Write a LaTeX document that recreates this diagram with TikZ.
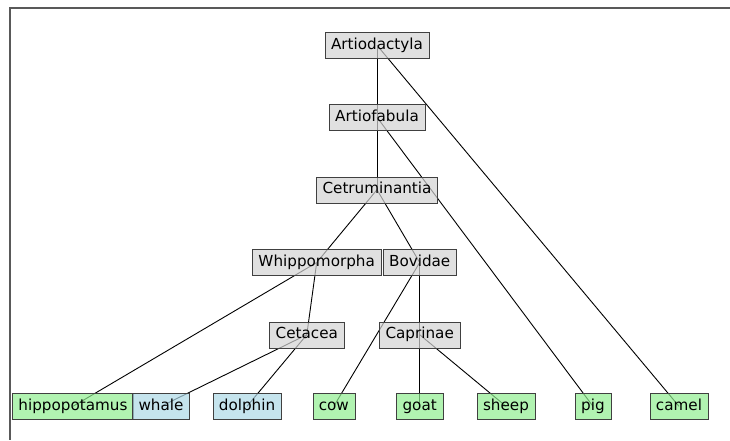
\documentclass[tikz,border=0pt]{standalone}
\usepackage{fontspec}
\setmainfont{DejaVu Sans}
\usetikzlibrary{backgrounds}
\definecolor{nodegray}{RGB}{211,211,211}
\definecolor{landgreen}{RGB}{144,238,144}
\definecolor{seablue}{RGB}{173,216,230}

\tikzset{
  taxon/.style={draw=black!75, fill=nodegray, fill opacity=.7, text opacity=1,
    inner xsep=6pt, inner ysep=5.5pt, text height=11.5pt, text depth=3.5pt,
    font=\fontsize{15.2}{18}\selectfont},
  land/.style={taxon, fill=landgreen},
  sea/.style={taxon, fill=seablue},
  branch/.style={line width=.9pt, black}
}

\begin{document}
\begin{tikzpicture}[x=1pt, y=-1pt]
\useasboundingbox (0,0) rectangle (730,440);
% axes frame
\draw[black!65, line width=1.1pt] (730,8) -- (10,8) -- (10,440);

% inner nodes
\node[taxon] (artiodactyla) at (377,45.3) {Artiodactyla};
\node[taxon] (artiofabula) at (377,117.3) {Artiofabula};
\node[taxon] (cetruminantia) at (377,189.7) {Cetruminantia};
\node[taxon] (whippomorpha) at (316.7,262.5) {Whippomorpha};
\node[taxon] (bovidae) at (419.7,262.5) {Bovidae};
\node[taxon] (cetacea) at (306.8,334.7) {Cetacea};
\node[taxon] (caprinae) at (419.7,334.7) {Caprinae};

% leaves
\node[land] (hippopotamus) at (73,406.3) {hippopotamus};
\node[sea] (whale) at (161,406.3) {whale};
\node[sea] (dolphin) at (247,406.3) {dolphin};
\node[land] (cow) at (333.8,406.3) {cow};
\node[land] (goat) at (419.7,406.3) {goat};
\node[land] (sheep) at (506,406.3) {sheep};
\node[land] (pig) at (593,406.3) {pig};
\node[land] (camel) at (679,406.3) {camel};

\begin{pgfonlayer}{background}
\draw[branch] (artiodactyla.center) -- (artiofabula.center);
\draw[branch] (artiodactyla.center) -- (camel.center);
\draw[branch] (artiofabula.center) -- (cetruminantia.center);
\draw[branch] (artiofabula.center) -- (pig.center);
\draw[branch] (cetruminantia.center) -- (whippomorpha.center);
\draw[branch] (cetruminantia.center) -- (bovidae.center);
\draw[branch] (whippomorpha.center) -- (hippopotamus.center);
\draw[branch] (whippomorpha.center) -- (cetacea.center);
\draw[branch] (cetacea.center) -- (whale.center);
\draw[branch] (cetacea.center) -- (dolphin.center);
\draw[branch] (bovidae.center) -- (cow.center);
\draw[branch] (bovidae.center) -- (caprinae.center);
\draw[branch] (caprinae.center) -- (goat.center);
\draw[branch] (caprinae.center) -- (sheep.center);
\end{pgfonlayer}
\end{tikzpicture}
\end{document}
